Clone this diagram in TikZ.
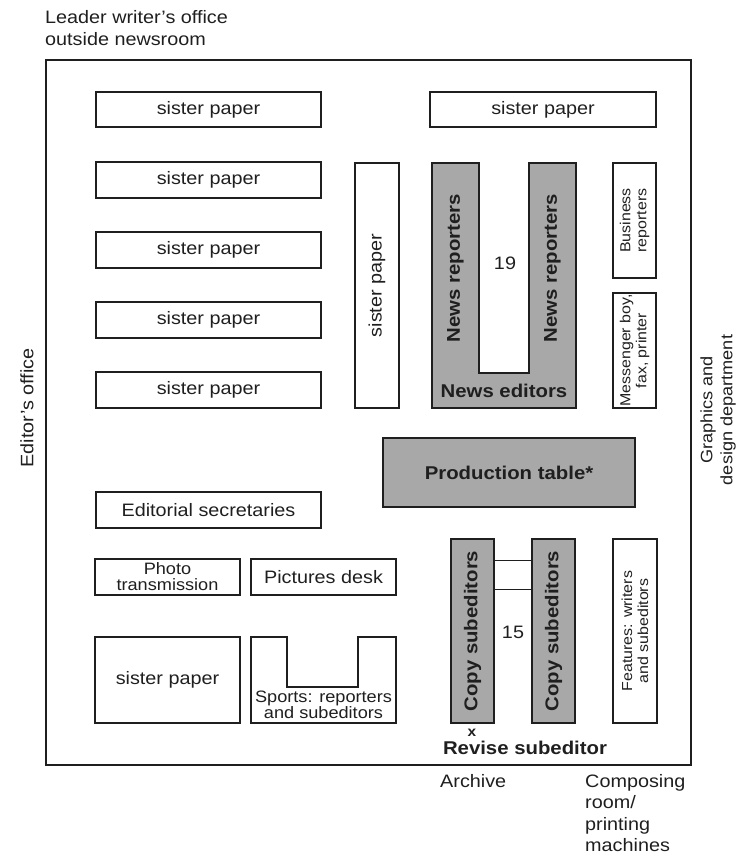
\documentclass[tikz,border=0pt]{standalone}
\usepackage{fontspec}
\setmainfont{Liberation Sans}[FakeStretch=1.1]
\newcommand\fsz[2]{\fontsize{#1}{#2}\selectfont}
\definecolor{deskgray}{gray}{0.66}
\definecolor{ink}{gray}{0.12}
\begin{document}
\begin{tikzpicture}[x=1pt,y=-1pt,
  every node/.style={text=ink},
  desk/.style={draw=ink, line width=1.1pt, inner sep=0pt, align=center, font=\fsz{18}{21}},
  shaded/.style={draw=ink, line width=1.1pt, fill=deskgray},
  boldlab/.style={font=\fsz{18.5}{21}\bfseries},
  plainlab/.style={font=\fsz{18}{22}, inner sep=0pt},
]
\useasboundingbox (0,0) rectangle (743,854);

% newsroom walls
\node[draw=ink, line width=1.6pt, minimum width=645, minimum height=705, anchor=north west, inner sep=0pt] (room) at (45,59) {};

% left column of sister papers
\node[desk, minimum width=225, minimum height=35] (sp1) at (208.5,109.5) {sister paper};
\node[desk, minimum width=225, minimum height=36] (sp2) at (208.5,180) {sister paper};
\node[desk, minimum width=225, minimum height=36] (sp3) at (208.5,250) {sister paper};
\node[desk, minimum width=225, minimum height=36] (sp4) at (208.5,320) {sister paper};
\node[desk, minimum width=225, minimum height=36] (sp5) at (208.5,390) {sister paper};
\node[desk, minimum width=226, minimum height=35] (sp6) at (543,109.5) {sister paper};
\node[desk, minimum width=44, minimum height=245] (sp7) at (377,285.5) {};
\node[rotate=90, font=\fsz{18}{21}] (sp7t) at (sp7.center) {sister paper};

% news desk (U shape)
\draw[shaded] (432,163) -- (479,163) -- (479,373) -- (529,373) -- (529,163) -- (576,163) -- (576,408) -- (432,408) -- cycle;
\node[rotate=90, boldlab] (nr1) at (455.5,268) {News reporters};
\node[rotate=90, boldlab] (nr2) at (552.5,268) {News reporters};
\node[boldlab] (ned) at (504,391) {News editors};
\node[font=\fsz{18}{21}] (n19) at (505,263) {19};

% right column
\node[desk, minimum width=43, minimum height=115] (bus) at (634.5,220.5) {};
\node[rotate=90, align=center, font=\fsz{14.5}{16}] (bust) at (bus.center) {Business\\reporters};
\node[desk, minimum width=43, minimum height=115] (mes) at (634.5,350.5) {};
\node[rotate=90, align=center, font=\fsz{14.5}{16}] (mest) at (mes.center) {Messenger boy,\\fax, printer};

% production table
\node[draw=ink, line width=2.8pt, fill=deskgray, minimum width=252, minimum height=69, inner sep=0pt, boldlab] (prod) at (509,472.5) {Production table*};

% lower left desks
\node[desk, minimum width=225, minimum height=36] (sec) at (208.5,510) {Editorial secretaries};
\node[desk, minimum width=145, minimum height=36, font=\fsz{16.5}{16}] (photo) at (167.5,577) {Photo\\transmission};
\node[desk, minimum width=145, minimum height=36] (pic) at (323.5,577) {Pictures desk};
\node[desk, minimum width=145, minimum height=86] (sp8) at (167.5,680) {sister paper};
\draw[draw=ink, line width=1.1pt] (251,637) -- (287,637) -- (287,687) -- (358,687) -- (358,637) -- (396,637) -- (396,723) -- (251,723) -- cycle;
\node[align=center, font=\fsz{16.5}{16.5}] (sports) at (323.5,705) {Sports: reporters\\and subeditors};

% copy desk
\node[shaded, minimum width=43, minimum height=184, inner sep=0pt] (cs1) at (472.5,631) {};
\node[shaded, minimum width=43, minimum height=184, inner sep=0pt] (cs2) at (553.5,631) {};
\node[rotate=90, boldlab] (cs1t) at (cs1.center) {Copy subeditors};
\node[rotate=90, boldlab] (cs2t) at (cs2.center) {Copy subeditors};
\draw[draw=ink, line width=0.6pt] ([yshift=-22pt]cs1.north east) -- ([yshift=-22pt]cs2.north west);
\draw[draw=ink, line width=0.6pt] ([yshift=-51pt]cs1.north east) -- ([yshift=-51pt]cs2.north west);
\node[font=\fsz{18}{21}] (n15) at (513,632) {15};
\node[desk, minimum width=44, minimum height=184] (feat) at (635,631) {};
\node[rotate=90, align=center, font=\fsz{14.5}{16}] (featt) at (feat.center) {Features: writers\\and subeditors};
\node[font=\fsz{14}{14}\bfseries] (xmark) at (472,733) {x};
\node[boldlab] (revise) at (525,748) {Revise subeditor};

% surrounding rooms
\node[plainlab, anchor=north west, align=left] (leader) at (45,10) {Leader writer's office\\outside newsroom};
\node[plainlab, rotate=90] (editor) at (27,408) {Editor's office};
\node[plainlab, rotate=90, align=center, font=\fsz{16.5}{20}] (graphics) at (718,410) {Graphics and\\design department};
\node[plainlab, anchor=base west] (archive) at (440,787) {Archive};
\node[plainlab, anchor=base west, align=left, font=\fsz{18}{21.5}] (compose) at (585,851.5) {Composing\\room/\\printing\\machines};
\end{tikzpicture}
\end{document}
